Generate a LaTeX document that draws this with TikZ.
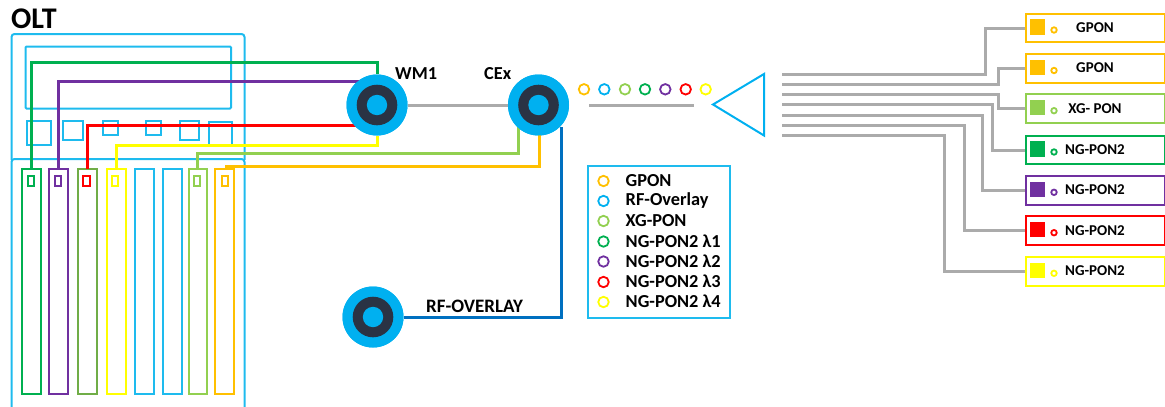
\documentclass[tikz,border=0pt]{standalone}
\usepackage{fontspec}
\setmainfont{Carlito}
\definecolor{frameblue}{HTML}{1EBBEE}
\definecolor{ringblue}{HTML}{00B0F0}
\definecolor{darkcore}{HTML}{2A3344}
\definecolor{wiregray}{HTML}{ABABAB}
\definecolor{cgreen}{HTML}{00B050}
\definecolor{cpurple}{HTML}{7030A0}
\definecolor{cred}{HTML}{FF0000}
\definecolor{cyellow}{HTML}{FFFF00}
\definecolor{clight}{HTML}{92D050}
\definecolor{corange}{HTML}{FFC000}
\definecolor{colive}{HTML}{70AD47}
\definecolor{cblue}{HTML}{0070C0}
\tikzset{
  x=1pt,y=-1pt,
  frame/.style={draw=frameblue,line width=2pt},
  card/.style={line width=2pt,fill=white},
  wire/.style={line width=3pt,line join=miter},
  gwire/.style={draw=wiregray,line width=3pt,line join=miter},
  lbl/.style={inner sep=0pt,font=\bfseries\fontsize{18.3}{20}\selectfont,text=black},
  tlbl/.style={inner sep=0pt,font=\bfseries\fontsize{15}{17}\selectfont,text=black},
  dot/.style={circle,draw,line width=1.8pt,minimum size=10.5pt,inner sep=0pt,fill=white},
  smalldot/.style={circle,draw,line width=1.8pt,minimum size=5.5pt,inner sep=0pt,fill=white},
  swatch/.style={minimum size=15.5pt,inner sep=0pt,draw=none},
  pbox/.style={draw,line width=2pt,minimum width=139.5pt,minimum height=28.5pt,inner sep=0pt,fill=white},
  ringout/.style={circle,fill=ringblue,minimum size=61pt,inner sep=0pt},
}
\newcommand{\ring}[3]{%
  \node[ringout] (#1) at (#2,#3) {};
  \fill[darkcore] (#2,#3) circle (20.3);
  \fill[ringblue] (#2,#3) circle (10.2);
}
\begin{document}
\begin{tikzpicture}
\useasboundingbox (0,0) rectangle (1165,407);
% chassis
\draw[frame,rounded corners=3pt] (11.5,160) -- (11.5,34) -- (244.5,34) -- (244.5,160);
\draw[frame,rounded corners=1pt] (25.5,46.5) rectangle (231,108.5);
\foreach \a/\b/\c/\d in {26.5/121/50.5/145,63/120.5/82.5/140,103/120.5/117.5/135,146/120.5/161/135,180/120.5/199/140,208.5/121.5/232/145}
  \draw[frame] (\a,\b) rectangle (\c,\d);
\draw[frame,rounded corners=3pt] (11.5,407.5) -- (11.5,159) -- (244.5,159) -- (244.5,407.5);
% cards
\foreach \a/\b/\c in {22/40.5/cgreen,49/68/cpurple,77.5/97/colive,106.5/126/cyellow,135/154/frameblue,163/182/frameblue,188.5/207/clight,215/234/corange}
  \draw[card,draw=\c] (\a,169) rectangle (\b,394);
\foreach \a/\b/\c in {27.5/34/cgreen,55/61/cpurple,83/89.5/cred,112/118/cyellow,193.5/200/clight,221.5/228/corange}
  \draw[card,draw=\c] (\a,175.5) rectangle (\b,186);
% named ports
\ring{wm}{377}{105}
\ring{cex}{538.5}{105}
\ring{rf}{373}{317}
\coordinate (gs) at (31,169);
\coordinate (ps) at (58.5,169);
\coordinate (rs) at (87.5,169);
\coordinate (ys) at (116.5,169);
\coordinate (ls) at (197.5,169);
\coordinate (os) at (225,166);
\coordinate (pe) at (362,81);
\coordinate (re) at (362,125);
% coloured fibres
\draw[wire,draw=cyellow] (ys) |- (377,145) -- (wm.south);
\draw[wire,draw=cred] (rs) |- (re);
\draw[wire,draw=cpurple] (ps) |- (pe);
\draw[wire,draw=cgreen] (gs) |- (377,62) -- (wm.north);
\draw[wire,draw=clight] (ls) |- (518,153.5) -- (518,126);
\draw[wire,draw=corange] (os) -- (539.5,166) -- (539.5,135);
\draw[wire,draw=cblue] (561,127) -- (561,317) -- (rf.east);
\draw[gwire] (wm.east) -- (cex.west);
% redraw rings above fibres
\ring{wm}{377}{105}
\ring{cex}{538.5}{105}
\ring{rf}{373}{317}
% labels
\node[anchor=west,inner sep=0pt,font=\bfseries\fontsize{30}{32}\selectfont] (olt) at (11,19) {OLT};
\node[anchor=west,lbl] (wml) at (395,74) {WM1};
\node[anchor=west,lbl] (cexl) at (484,73.5) {CEx};
\node[anchor=west,lbl,font=\bfseries\fontsize{19}{21}\selectfont] (rfl) at (426,306) {RF-OVERLAY};
% wavelength dots
\foreach \n/\x/\c in {a/584/corange,b/604.3/ringblue,c/625/clight,d/645/cgreen,e/665.3/cpurple,f/685.7/cred,g/705.7/cyellow}
  \node[dot,draw=\c] (w\n) at (\x,89.3) {};
\coordinate (sa) at (589,105);
\coordinate (sb) at (693.5,105);
\draw[gwire] (sa) -- (sb);
% splitter
\draw[draw=ringblue,line width=2pt,line join=miter] (713,104.5) -- (764,74) -- (764,135.5) -- cycle;
% legend
\node[draw=frameblue,line width=2pt,minimum width=142pt,minimum height=152pt,inner sep=0pt] (legend) at (659,242) {};
\foreach \n/\y/\c/\t in {1/181/corange/GPON,2/201/ringblue/RF-Overlay,3/221/clight/XG-PON,4/241.5/cgreen/NG-PON2 λ1,5/261.5/cpurple/NG-PON2 λ2,6/282/cred/NG-PON2 λ3,7/302/cyellow/NG-PON2 λ4}{
  \node[dot,draw=\c] (ld\n) at (603.5,\y) {};
  \node[lbl,anchor=west] (lt\n) at (625.5,\y-0.5) {\t};
}
% subscriber boxes
\foreach \n/\y/\c/\t in {1/28/corange/GPON,2/68.5/corange/GPON,3/108.7/clight/XG- PON,4/150/cgreen/NG-PON2,5/190.3/cpurple/NG-PON2,6/230.7/cred/NG-PON2,7/271.3/cyellow/NG-PON2}{
  \node[pbox,draw=\c] (b\n) at (1095.25,\y) {};
  \node[tlbl] (bt\n) at (1095,\y-0.5) {\t};
  \node[swatch,fill=\c] (sw\n) at (1037.5,\y-1) {};
  \node[smalldot,draw=\c] (sd\n) at (1054,\y+2) {};
}
% distribution fibres
\foreach \n/\y/\x in {1/74.5/985,2/84.5/998,3/94.5/998.5,4/104.5/992,5/115/982,6/125/964.5,7/135/944}{
  \coordinate (p\n) at (782,\y);
  \draw[gwire] (p\n) -- (\x,\y) |- (b\n.west);
}
\end{tikzpicture}
\end{document}
